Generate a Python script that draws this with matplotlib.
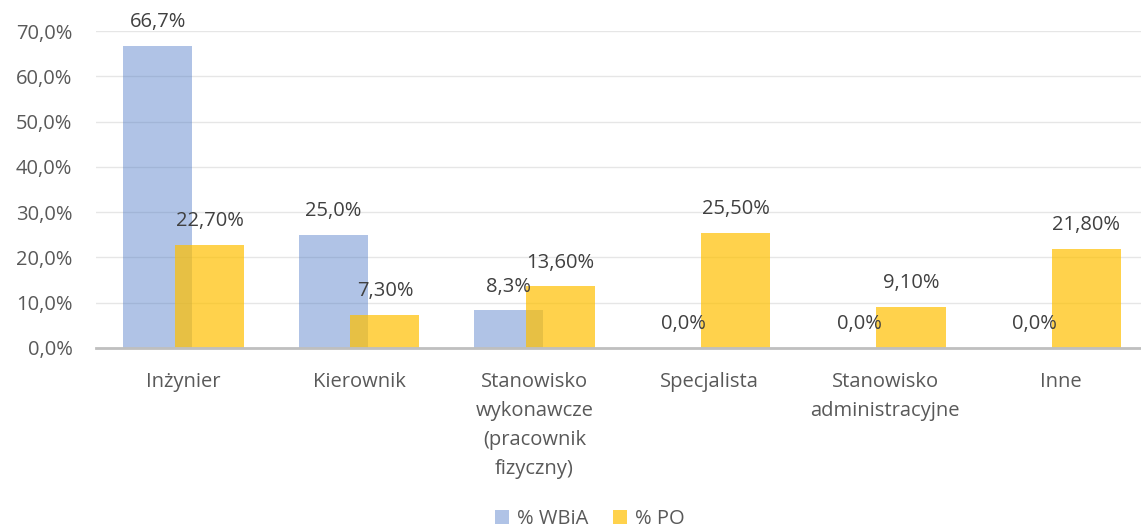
import matplotlib
matplotlib.use("Agg")
import matplotlib.pyplot as plt
import numpy as np
from matplotlib.ticker import FuncFormatter

categories = ["Inżynier", "Kierownik", "Stanowisko\nwykonawcze\n(pracownik\nfizyczny)",
              "Specjalista", "Stanowisko\nadministracyjne", "Inne"]
wbia = [66.7, 25.0, 8.3, 0.0, 0.0, 0.0]
po = [22.7, 7.3, 13.6, 25.5, 9.1, 21.8]
wbia_labels = ["66,7%", "25,0%", "8,3%", "0,0%", "0,0%", "0,0%"]
po_labels = ["22,70%", "7,30%", "13,60%", "25,50%", "9,10%", "21,80%"]

plt.rcParams['font.family'] = ['Open Sans', 'DejaVu Sans']
fs = 14.5

fig = plt.figure(figsize=(11.41, 5.29), dpi=100)
ax = fig.add_axes([96 / 1141, 1 - 348 / 529, 1 - 96 / 1141, (348 - 31) / 529])

x = np.arange(len(categories))
w = 0.394
off = 0.148
ax.bar(x - off, wbia, w, color='#4472C4', alpha=0.42, label='% WBiA', zorder=2)
ax.bar(x + off, po, w, color='#FFC000', alpha=0.7, label='% PO', zorder=3)

for i in range(len(x)):
    ax.annotate(wbia_labels[i], (x[i] - off, wbia[i]), xytext=(0, 10), textcoords='offset points',
                ha='center', va='bottom', fontsize=fs, color='#404040', zorder=5)
    ax.annotate(po_labels[i], (x[i] + off, po[i]), xytext=(0, 10), textcoords='offset points',
                ha='center', va='bottom', fontsize=fs, color='#404040', zorder=5)

ax.set_ylim(0, 70)
ax.set_xlim(-0.5, 5.46)
ax.set_yticks(np.arange(0, 71, 10))
ax.yaxis.set_major_formatter(FuncFormatter(lambda v, p: f"{v:.1f}%".replace('.', ',')))
ax.set_xticks(x)
ax.set_xticklabels(categories, linespacing=1.6)
ax.tick_params(axis='both', length=0, labelsize=fs, colors='#595959')
ax.tick_params(axis='x', pad=17)
ax.tick_params(axis='y', pad=17)
ax.grid(axis='y', color='#E6E6E6', linewidth=1, zorder=0)
for s in ['top', 'right', 'left']:
    ax.spines[s].set_visible(False)
ax.spines['bottom'].set_color('#BFBFBF')
ax.spines['bottom'].set_linewidth(2)
ax.spines['bottom'].set_zorder(4)

fig.legend(loc='center', bbox_to_anchor=(0.517, 0.018), ncol=2, frameon=False,
           fontsize=fs, handlelength=0.7, handleheight=0.7, handletextpad=0.4,
           columnspacing=1.2, labelcolor='#595959')

fig.savefig('out.png', dpi=100)
